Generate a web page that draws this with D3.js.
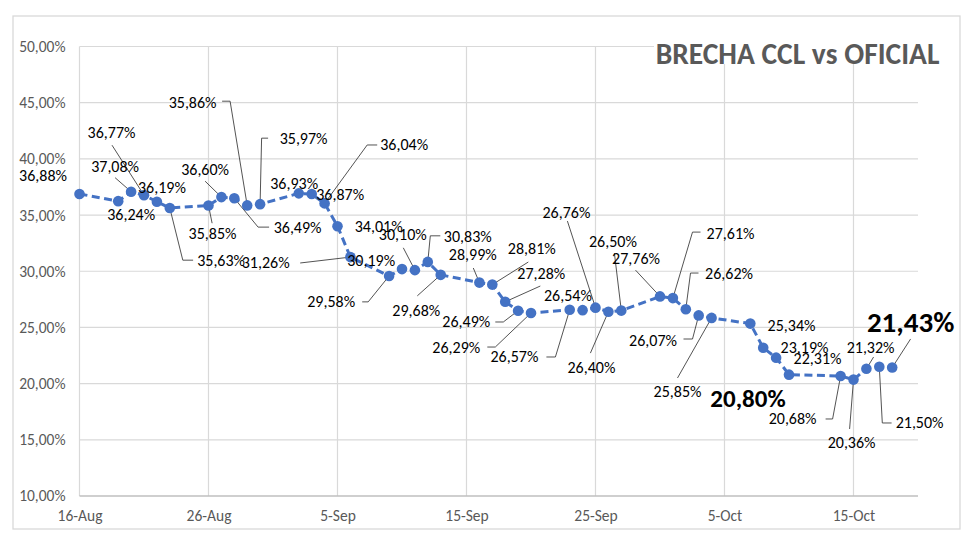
<!DOCTYPE html>
<html><head><meta charset="utf-8">
<script src="https://cdn.jsdelivr.net/npm/d3@7"></script>
<style>
html,body{margin:0;padding:0;background:#fff;}
svg{display:block;}
text{font-family:Carlito, Lato, "Open Sans", sans-serif;}
</style></head>
<body>
<svg id="chart" width="980" height="549"></svg>
<script>
// ---- DATA ----
const title = "BRECHA CCL vs OFICIAL";
const dates = [
 "2019-08-16","2019-08-19","2019-08-20","2019-08-21","2019-08-22","2019-08-23",
 "2019-08-26","2019-08-27","2019-08-28","2019-08-29","2019-08-30",
 "2019-09-02","2019-09-03","2019-09-04","2019-09-05","2019-09-06",
 "2019-09-09","2019-09-10","2019-09-11","2019-09-12","2019-09-13",
 "2019-09-16","2019-09-17","2019-09-18","2019-09-19","2019-09-20",
 "2019-09-23","2019-09-24","2019-09-25","2019-09-26","2019-09-27",
 "2019-09-30","2019-10-01","2019-10-02","2019-10-03","2019-10-04",
 "2019-10-07","2019-10-08","2019-10-09","2019-10-10",
 "2019-10-14","2019-10-15","2019-10-16","2019-10-17","2019-10-18"
];
const brecha = [
 36.88,36.24,37.08,36.77,36.19,35.63,
 35.85,36.60,36.49,35.86,35.97,
 36.93,36.87,36.04,34.01,31.26,
 29.58,30.19,30.10,30.83,29.68,
 28.99,28.81,27.28,26.49,26.29,
 26.57,26.54,26.76,26.40,26.50,
 27.76,27.61,26.62,26.07,25.85,
 25.34,23.19,22.31,20.80,
 20.68,20.36,21.32,21.50,21.43
];
const yTicks = [10,15,20,25,30,35,40,45,50];
const xTickLabels = ["16-Aug","26-Aug","5-Sep","15-Sep","25-Sep","5-Oct","15-Oct"];
const xDomain = ["2019-08-16","2019-10-20"];
const highlighted = [39, 44]; // indices of emphasised labels

// ---- LABEL LAYOUT (offsets from each point, px) ----
const labelOffsets = [
 [-36.5,-18],[13,13],[-16,-25],[-32.5,-63],[5,-14.5],[51.3,52.2],
 [4,27.7],[-16.3,-27.9],[63.3,28.8],[-54.6,-103.2],[43.5,-66],
 [-4.6,-10],[28.5,0],[79.6,-58.4],[41.2,0],[-84.7,5.9],
 [-57.9,25.9],[-30.8,-8.3],[-12.1,-35.3],[40,-25.1],[-24.4,36],
 [-6.6,-27.6],[39.5,-36.6],[36.1,-28.8],[-51.8,11.3],[-74.7,34.1],
 [-55.3,47.2],[-14.7,-15.1],[-29.1,-95.6],[-17,55.4],[-8.4,-69.5],
 [-24,-38.3],[57.6,-65],[43.2,-36.2],[-45.7,24.6],[-34.1,74.1],
 [41.2,1.7],[41.3,0.2],[41.4,1.3],[-41,23.4],
 [-48,43],[-1.9,63.4],[4.2,-20.8],[40.3,56.2],[18.4,-45.6]
];
const leaderPaths = {
 2:[[-16,-14]], 3:[[-32,-50]], 5:[[23.3,52.2],[13,52.2]], 6:[[3.6,17.7]],
 7:[[-16.3,-15.9]], 8:[[34.8,28.8],[23.8,28.8]], 9:[[-25.1,-104.2],[-17.1,-104.2]],
 10:[[8,-66],[1.5,-66]], 13:[[52.6,-58.4],[42.6,-58.4]], 15:[[-50.2,5.9]],
 16:[[-26.9,25.9],[-20.9,25.9]], 18:[[-11.6,-22.3]], 19:[[12.5,-26.1],[2.5,-26.1]],
 20:[[-23.4,21]], 21:[[-6.1,-14.6]], 22:[[36,-22.6]], 23:[[35.1,-15.8]],
 24:[[-22.8,11.3],[-14.8,11.3]], 25:[[-43.7,34.1],[-35.7,34.1]],
 26:[[-23.3,47.2],[-14.3,47.2]], 28:[[-28.1,-86.6]], 29:[[-18,41.4]],
 30:[[-6.9,-57.5]], 31:[[-24.5,-26.3]], 32:[[27.6,-66],[19.6,-66]],
 33:[[12.7,-36.2],[4.7,-36.2]], 34:[[-15.2,23.6],[-6.2,23.6]], 35:[[-34.1,60.1]],
 40:[[-15,43],[-8,43]], 41:[[-3.9,49.4]], 42:[[7.2,-11.8]],
 43:[[12.3,56.2],[3,56.2]], 44:[[18.4,-28.6]]
};

// ---- CHART ----
const parse = d3.timeParse("%Y-%m-%d");
const data = dates.map((d,i)=>({date:parse(d), v:brecha[i], i}));
const svg = d3.select("#chart");
const W = 980, H = 549;
const plot = {left:79.5, right:918, top:46.5, bottom:496};

const x = d3.scaleTime().domain(xDomain.map(parse)).range([plot.left, plot.right]);
const y = d3.scaleLinear().domain([10,50]).range([plot.bottom, plot.top]);

svg.append("rect").attr("width",W).attr("height",H).attr("fill","#fff");
svg.append("rect").attr("x",13).attr("y",16).attr("width",947).attr("height",513)
  .attr("fill","#fff").attr("stroke","#d9d9d9").attr("stroke-width",1.3);

const fmtPct = v => d3.format(".2f")(v).replace(".", ",") + "%";
const parseTick = d3.timeParse("%d-%b-%Y");
const xTickDates = xTickLabels.map(t => parseTick(t + "-2019"));

// gridlines
const grid = svg.append("g");
grid.selectAll("line.h").data(yTicks.filter(t=>t>10)).join("line")
  .attr("x1",plot.left).attr("x2",plot.right)
  .attr("y1",d=>y(d)).attr("y2",d=>y(d))
  .attr("stroke","#d9d9d9").attr("stroke-width",1.2);
grid.selectAll("line.v").data(xTickDates).join("line")
  .attr("x1",d=>x(d)).attr("x2",d=>x(d))
  .attr("y1",plot.top).attr("y2",plot.bottom)
  .attr("stroke","#d9d9d9").attr("stroke-width",1.2);

// y axis
const yAxis = d3.axisLeft(y).tickValues(yTicks).tickSize(0).tickPadding(14).tickFormat(fmtPct);
const gy = svg.append("g").attr("transform",`translate(${plot.left},0)`).call(yAxis);
gy.select(".domain").remove();
gy.selectAll("text").attr("font-size","15.5px").attr("fill","#595959")
  .style("font-family","Carlito, Lato, sans-serif");

// x axis
const xAxis = d3.axisBottom(x).tickValues(xTickDates).tickSize(0).tickPadding(14)
  .tickFormat((d,i)=>xTickLabels[i]);
const gx = svg.append("g").attr("transform",`translate(0,${plot.bottom})`).call(xAxis);
gx.select(".domain").attr("stroke","#bfbfbf").attr("stroke-width",1.3)
  .attr("d",`M${plot.left},0H${plot.right}`);
gx.selectAll("text").attr("font-size","15.5px").attr("fill","#595959")
  .style("font-family","Carlito, Lato, sans-serif");

// title (with white backing, as in the reference)
svg.append("rect").attr("x",654).attr("y",36).attr("width",288).attr("height",28).attr("fill","#fff");
svg.append("text").attr("x",797.5).attr("y",54).attr("text-anchor","middle")
  .attr("dominant-baseline","central").attr("font-size","29.5px").attr("font-weight","bold")
  .attr("fill","#595959").text(title);

// line
const line = d3.line().x(d=>x(d.date)).y(d=>y(d.v));
svg.append("path").datum(data).attr("d",line).attr("fill","none")
  .attr("stroke","#4472C4").attr("stroke-width",3).attr("stroke-dasharray","8,4.5");

// leader lines
const leaders = svg.append("g");
data.forEach(d=>{
  const lp = leaderPaths[d.i];
  if(!lp) return;
  const px = x(d.date), py = y(d.v);
  const pts = lp.map(o=>[px+o[0], py+o[1]]).concat([[px,py]]);
  leaders.append("path").attr("d", d3.line()(pts)).attr("fill","none")
    .attr("stroke","#404040").attr("stroke-width",0.9);
});

// markers
svg.append("g").selectAll("circle").data(data).join("circle")
  .attr("cx",d=>x(d.date)).attr("cy",d=>y(d.v)).attr("r",5.3)
  .attr("fill","#4472C4");

// labels
svg.append("g").selectAll("text").data(data).join("text")
  .attr("x",d=>x(d.date)+labelOffsets[d.i][0])
  .attr("y",d=>y(d.v)+labelOffsets[d.i][1])
  .attr("text-anchor","middle").attr("dominant-baseline","central")
  .attr("font-size",d=> d.i===44 ? "29px" : d.i===39 ? "25px" : "16px")
  .attr("font-weight",d=> highlighted.includes(d.i) ? "bold" : "normal")
  .attr("fill","#000")
  .text(d=>fmtPct(d.v));
</script>
</body></html>
